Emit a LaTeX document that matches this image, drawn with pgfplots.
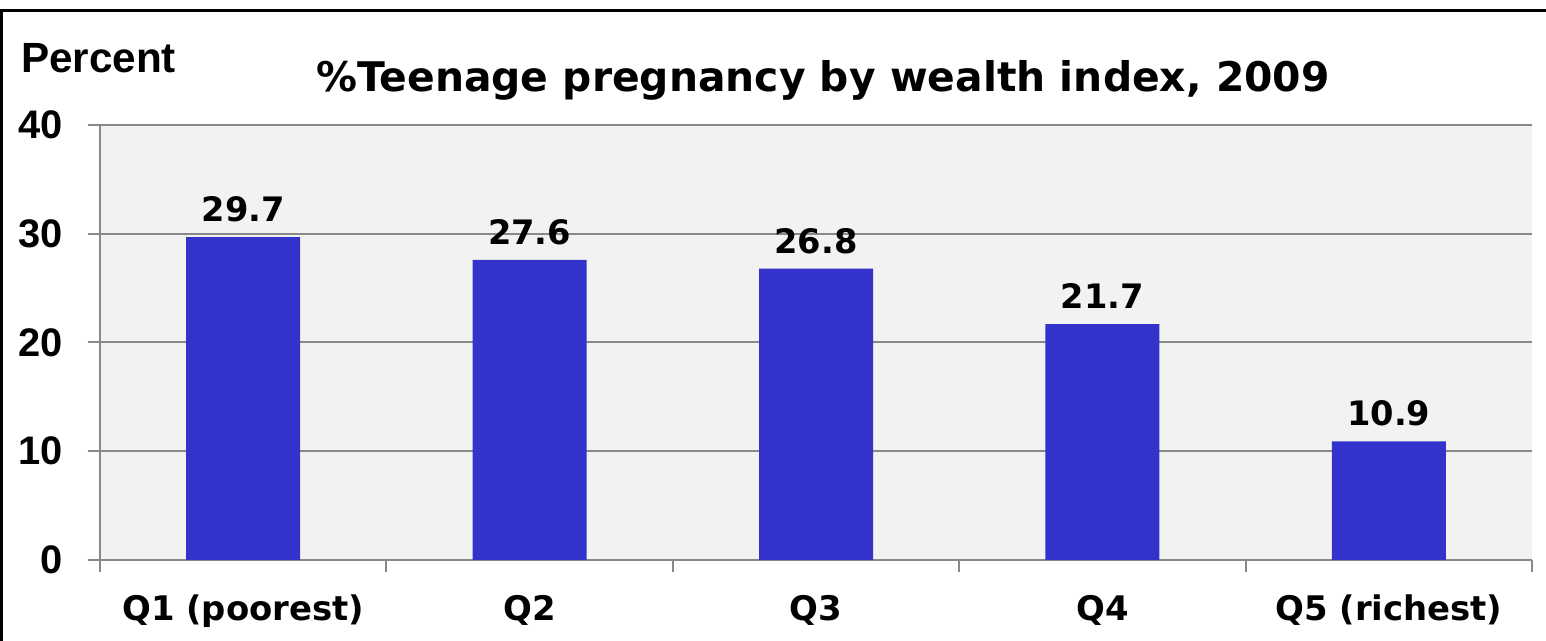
\documentclass[border=0pt]{standalone}
\usepackage{fontspec}
\setmainfont{DejaVu Sans}
\newfontfamily\arialfont{Liberation Sans}
\usepackage{pgfplots}
\pgfplotsset{compat=1.18}
\definecolor{barblue}{RGB}{51,51,204}
\definecolor{plotbg}{RGB}{242,242,242}
\definecolor{axgray}{RGB}{137,137,137}

\begin{document}
\begin{tikzpicture}[x=0.5bp,y=0.5bp]
\useasboundingbox (0,0) rectangle (1546,641);
\begin{axis}[
  at={(50bp,40.5bp)}, anchor=south west,
  scale only axis, width=716bp, height=217.5bp,
  axis background/.style={fill=plotbg},
  xmin=-0.5, xmax=4.5, ymin=0, ymax=40,
  axis lines=left, axis line style={-, axgray, line width=1bp},
  ytick={0,10,20,30,40},
  xtick={0,1,2,3,4},
  xticklabels={Q1 (poorest),Q2,Q3,Q4,Q5 (richest)},
  minor xtick={-0.5,0.5,1.5,2.5,3.5,4.5},
  major x tick style={draw=none},
  tick style={axgray, line width=1bp},
  tick align=outside,
  major tick length=6bp, minor tick length=6bp,
  ymajorgrids, grid style={axgray, line width=1bp},
  /pgf/number format/assume math mode=true,
  yticklabel style={font=\arialfont\bfseries\fontsize{20}{20}\selectfont, xshift=-9bp},
  xticklabel style={font=\bfseries\fontsize{17}{20}\selectfont, yshift=-8bp},
  ybar, bar width=57bp,
  nodes near coords,
  nodes near coords style={font=\bfseries\fontsize{16.9}{18}\selectfont, black, yshift=4bp,
    /pgf/number format/.cd, fixed, fixed zerofill, precision=1},
  clip=false,
]
\addplot[fill=barblue, draw=none] coordinates {(0,29.7) (1,27.6) (2,26.8) (3,21.7) (4,10.9)};
\end{axis}
\draw[black, line width=1.5bp] (1,0) -- (1,630) -- (1560,630);
\node[font=\arialfont\bfseries\fontsize{21.2}{22}\selectfont, anchor=west] at (14,583) {Percent};
\node[font=\bfseries\fontsize{20.5}{24}\selectfont] at (823,561) {\%Teenage pregnancy by wealth index, 2009};
\end{tikzpicture}
\end{document}
